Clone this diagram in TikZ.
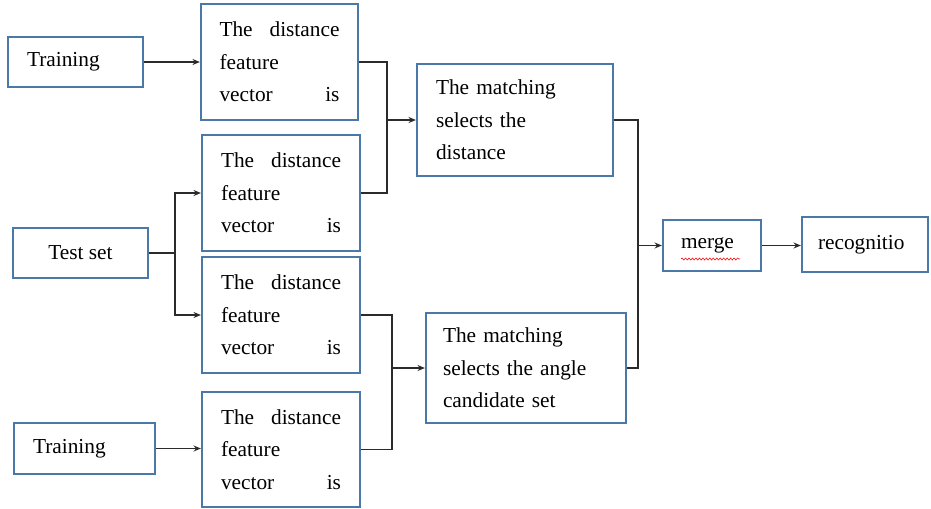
\documentclass[tikz,border=0pt]{standalone}
\usepackage{fontspec}
\setmainfont{Liberation Serif}
\usetikzlibrary{arrows.meta,decorations.pathmorphing}
\definecolor{boxblue}{HTML}{4A78A8}
\definecolor{linegray}{HTML}{2B2B2B}
\begin{document}
\begin{tikzpicture}[x=0.75pt,y=-0.75pt,
  bx/.style 2 args={draw=boxblue, line width=1.7pt, rectangle, inner sep=0pt,
     minimum width=#1*0.75pt, minimum height=#2*0.75pt,
     font=\fontsize{16}{24.4}\selectfont, text=black},
  conn/.style={draw=linegray, line width=1pt},
  arr/.style={conn, -{Stealth[length=5.5pt,width=4.5pt]}}]
\useasboundingbox (0,0) rectangle (931,508);
\newcommand\dtext{\hbox to 90pt{The\hfill distance}\\feature\\\hbox to 90pt{vector\hfill is}}
% boxes
\node[bx={135}{50}, text width=97*0.75pt, align=left] (tr1) at (75.5,62) {Training};
\node[bx={135}{50}, align=center] (ts) at (80.5,253) {Test set};
\node[bx={141}{51}, text width=103*0.75pt, align=left] (tr2) at (84.5,448.5) {Training};
\node[bx={157}{116}, text width=120*0.75pt, align=left] (d1) at (279.5,62) {\dtext};
\node[bx={158}{116}, text width=120*0.75pt, align=left] (d2) at (281,193) {\dtext};
\node[bx={158}{116}, text width=120*0.75pt, align=left] (d3) at (281,315) {\dtext};
\node[bx={158}{115}, text width=120*0.75pt, align=left] (d4) at (281,449.5) {\dtext};
\node[bx={196}{112}, text width=158*0.75pt, align=left] (m1) at (515,120) {The matching\\selects the\\distance};
\node[bx={200}{110}, text width=166*0.75pt, align=left] (m2) at (526,368) {The matching\\selects the angle\\candidate set};
\node[bx={98}{51}, text width=62*0.75pt, align=left] (mg) at (712,245.5) {merge};
\node[bx={126}{55}, text width=94*0.75pt, align=left] (rc) at (865,244.5) {recognitio};
% spell-check underline
\draw[red, line width=0.4pt, decorate, decoration={snake, amplitude=0.8pt, segment length=2.6pt}]
  (681,259) -- (740,259);
% junctions
\coordinate (j1) at (387,120);
\coordinate (j2) at (175,253);
\coordinate (j3) at (392,368);
\coordinate (j4) at (638,245.5);
% connectors
\draw[arr] (tr1.east) -- (d1.west);
\draw[conn] (d1.east) -| (j1) |- (d2.east);
\draw[arr] (j1) -- (m1.west);
\draw[conn] (ts.east) -- (j2);
\draw[arr] (j2) |- (d2.west);
\draw[arr] (j2) |- (d3.west);
\draw[arr] (tr2.east) -- (tr2.east -| d4.west);
\draw[conn] (d3.east) -| (j3) |- (d4.east);
\draw[arr] (j3) -- (m2.west);
\draw[conn] (m1.east) -| (j4) |- (m2.east);
\draw[arr] (j4) -- (mg.west);
\draw[arr] (mg.east) -- (mg.east -| rc.west);
\end{tikzpicture}
\end{document}
